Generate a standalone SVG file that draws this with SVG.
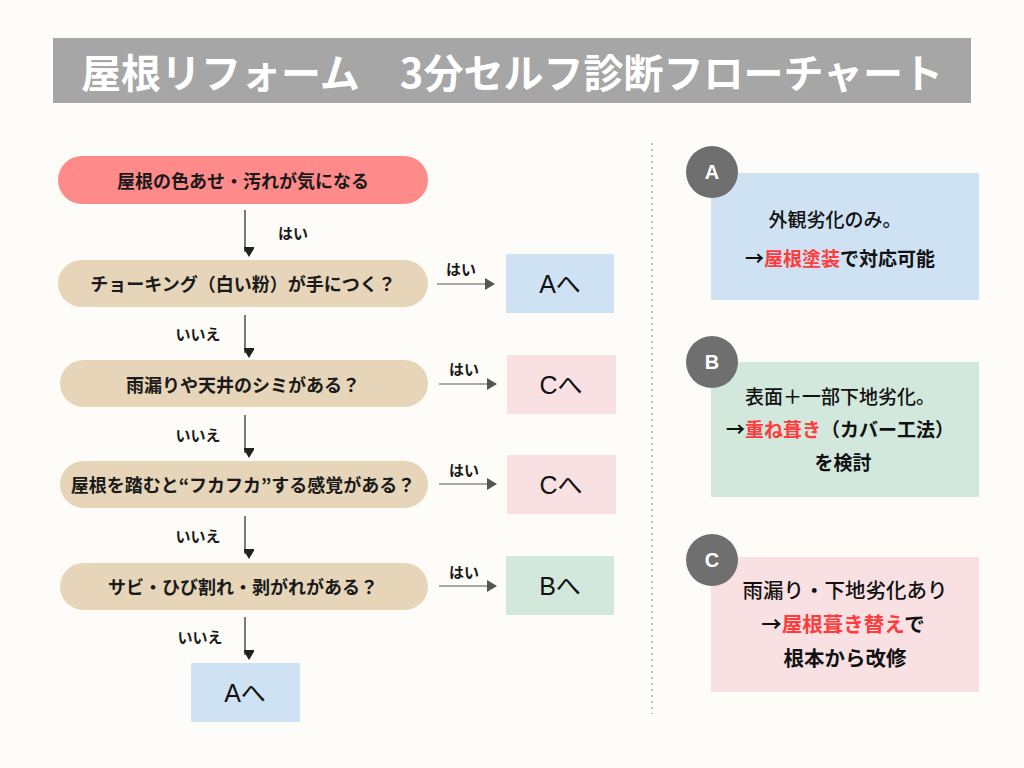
<svg xmlns="http://www.w3.org/2000/svg" width="1024" height="768" viewBox="0 0 1024 768">
<defs>
<style>
text{font-family:"Noto Sans CJK JP","Liberation Sans",sans-serif;}
.t{font-weight:700;font-size:18px;fill:#1a1a1a;text-anchor:middle;dominant-baseline:central;}
.lbl{font-weight:700;font-size:15px;fill:#1a1a1a;text-anchor:middle;dominant-baseline:central;}
.go{font-family:"Liberation Sans","Noto Sans CJK JP",sans-serif;font-size:25px;fill:#111;text-anchor:middle;dominant-baseline:central;}
.r{font-size:19px;fill:#111;text-anchor:middle;dominant-baseline:central;font-weight:700;}
.rm{font-size:19px;fill:#111;text-anchor:middle;dominant-baseline:central;font-weight:500;}
.big{font-size:20.5px;}
.red{fill:#ff3b3b;}
.pill{fill:#e6d5b8;}
.ca{fill:#cfe2f3;}
.cb{fill:#d3e8dd;}
.cc{fill:#f9e1e3;}
.circ{fill:#6f6f6f;}
.ct{font-family:"Liberation Sans",sans-serif;font-weight:700;font-size:20px;fill:#fff;text-anchor:middle;dominant-baseline:central;}
.dn{stroke:#222;stroke-width:1.2;fill:none;marker-end:url(#ab);}
.rt{stroke:#555;stroke-width:1.2;fill:none;marker-end:url(#ag);}
</style>
<marker id="ab" markerWidth="12" markerHeight="10" refX="6" refY="9" orient="auto-start-reverse" markerUnits="userSpaceOnUse" viewBox="0 0 12 10"><path d="M0,0 L12,0 L6,10 Z" fill="#222" transform="rotate(-90 6 5)"/></marker>
<marker id="ag" markerWidth="10" markerHeight="12" refX="9" refY="6" orient="auto" markerUnits="userSpaceOnUse" viewBox="0 0 10 12"><path d="M0,0 L10,6 L0,12 Z" fill="#555"/></marker>
</defs>
<rect width="1024" height="768" fill="#fdfcf8"/>
<g id="title">
<rect x="53" y="38" width="918" height="65" fill="#a6a6a6"/>
<text x="512" y="71" style="font-weight:700;font-size:40px;fill:#fff;text-anchor:middle;dominant-baseline:central;">屋根リフォーム　3分セルフ診断フローチャート</text>
</g>
<g id="connectors">
<line class="dn" x1="245" y1="210" x2="245" y2="252"/>
<line class="dn" x1="245" y1="315" x2="245" y2="353"/>
<line class="dn" x1="245" y1="415" x2="245" y2="453"/>
<line class="dn" x1="245" y1="516" x2="245" y2="554"/>
<line class="dn" x1="245" y1="617" x2="245" y2="655"/>
<line class="rt" x1="437" y1="284" x2="494" y2="284"/>
<line class="rt" x1="439" y1="384" x2="496" y2="384"/>
<line class="rt" x1="439" y1="484" x2="496" y2="484"/>
<line class="rt" x1="439" y1="586" x2="496" y2="586"/>
<text class="lbl" x="293" y="232">はい</text>
<text class="lbl" x="461" y="268">はい</text>
<text class="lbl" x="464" y="368">はい</text>
<text class="lbl" x="464" y="469">はい</text>
<text class="lbl" x="464" y="571">はい</text>
<text class="lbl" x="198" y="333">いいえ</text>
<text class="lbl" x="198" y="434">いいえ</text>
<text class="lbl" x="198" y="535">いいえ</text>
<text class="lbl" x="200" y="636">いいえ</text>
<line x1="652" y1="143" x2="652" y2="714" stroke="#aaa" stroke-width="1.5" stroke-dasharray="2,4"/>
</g>
<g id="start">
<rect x="58" y="156" width="370" height="48" rx="24" fill="#ff8a8a"/>
<text class="t" x="243" y="180">屋根の色あせ・汚れが気になる</text>
</g>
<g id="q1">
<rect class="pill" x="58" y="260" width="370" height="47" rx="23.5"/>
<text class="t" x="243" y="283">チョーキング（白い粉）が手につく？</text>
</g>
<g id="q2">
<rect class="pill" x="60" y="360" width="368" height="47" rx="23.5"/>
<text class="t" x="243" y="384">雨漏りや天井のシミがある？</text>
</g>
<g id="q3">
<rect class="pill" x="60" y="461" width="368" height="47" rx="23.5"/>
<text class="t" x="243" y="484">屋根を踏むと“フカフカ”する感覚がある？</text>
</g>
<g id="q4">
<rect class="pill" x="60" y="563" width="368" height="47" rx="23.5"/>
<text class="t" x="243" y="586">サビ・ひび割れ・剥がれがある？</text>
</g>
<g id="toA1">
<rect class="ca" x="506" y="254" width="108" height="59"/>
<text class="go" x="560" y="284">Aへ</text>
</g>
<g id="toC1">
<rect class="cc" x="507" y="355" width="109" height="59"/>
<text class="go" x="561" y="385">Cへ</text>
</g>
<g id="toC2">
<rect class="cc" x="507" y="455" width="109" height="59"/>
<text class="go" x="561" y="485">Cへ</text>
</g>
<g id="toB">
<rect class="cb" x="506" y="556" width="108" height="59"/>
<text class="go" x="560" y="586">Bへ</text>
</g>
<g id="toA2">
<rect class="ca" x="191" y="663" width="109" height="59"/>
<text class="go" x="245" y="693">Aへ</text>
</g>
<g id="resultA">
<rect class="ca" x="711" y="173" width="268" height="127"/>
<circle class="circ" cx="712" cy="172" r="26"/>
<text class="ct" x="712" y="172">A</text>
<text class="rm" x="835" y="218">外観劣化のみ。</text>
<text class="r" x="840" y="257">→<tspan class="red">屋根塗装</tspan>で対応可能</text>
</g>
<g id="resultB">
<rect class="cb" x="711" y="362" width="268" height="135"/>
<circle class="circ" cx="712" cy="362" r="26"/>
<text class="ct" x="712" y="362">B</text>
<text class="rm" x="840" y="395">表面＋一部下地劣化。</text>
<text class="r" x="840" y="428">→<tspan class="red">重ね葺き</tspan>（カバー工法）</text>
<text class="r" x="843" y="461">を検討</text>
</g>
<g id="resultC">
<rect class="cc" x="711" y="557" width="268" height="135"/>
<circle class="circ" cx="712" cy="560" r="26"/>
<text class="ct" x="712" y="560">C</text>
<text class="rm big" x="845" y="589">雨漏り・下地劣化あり</text>
<text class="r big" x="843" y="623">→<tspan class="red">屋根葺き替え</tspan>で</text>
<text class="r big" x="845" y="657">根本から改修</text>
</g>
</svg>
